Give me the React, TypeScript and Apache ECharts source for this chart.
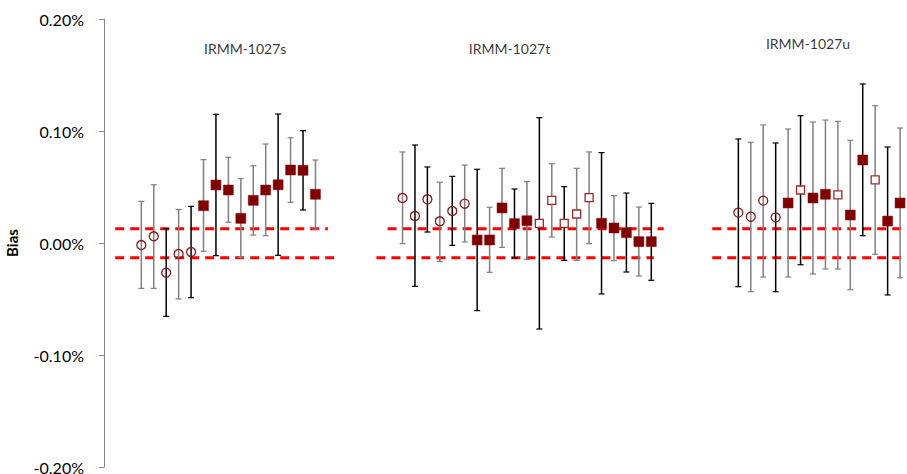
import React, { useEffect, useRef } from "react";
import * as echarts from "echarts";

// ---- data (bias in %) ----
const groupNames = ["IRMM-1027s", "IRMM-1027t", "IRMM-1027u"];
const groupStartSlot = [0, 21, 48];
const groupLabelSlot = [8.35, 29.6, 53.6];
const groupLabelValue = [0.174, 0.174, 0.178];

// o = open circle, s = filled square, q = open square
const g1Kind = ["o", "o", "o", "o", "o", "s", "s", "s", "s", "s", "s", "s", "s", "s", "s"];
const g1Value = [-0.0018, 0.006, -0.0265, -0.0098, -0.008, 0.0333, 0.0518, 0.0473, 0.022, 0.0381, 0.0473, 0.052, 0.0652, 0.0649, 0.0435];
const g1High = [0.0372, 0.052, 0.0128, 0.03, 0.0327, 0.0744, 0.1149, 0.0765, 0.0574, 0.069, 0.0884, 0.1152, 0.094, 0.1003, 0.0741];
const g1Low = [-0.0405, -0.0405, -0.0655, -0.05, -0.0488, -0.0074, -0.0113, 0.0185, -0.0131, 0.0071, 0.0065, -0.011, 0.0363, 0.0295, 0.0125];
const g1Bar = ["g", "g", "k", "g", "k", "g", "k", "g", "g", "g", "g", "k", "g", "k", "g"];

const g2Kind = ["o", "o", "o", "o", "o", "o", "s", "s", "s", "s", "s", "q", "q", "q", "q", "q", "s", "s", "s", "s", "s"];
const g2Value = [0.0402, 0.0241, 0.039, 0.0194, 0.0286, 0.0351, 0.0027, 0.0027, 0.0313, 0.0173, 0.0199, 0.0176, 0.0381, 0.0176, 0.0259, 0.0405, 0.0176, 0.0134, 0.0092, 0.0012, 0.0012];
const g2High = [0.0813, 0.0875, 0.0679, 0.0542, 0.0595, 0.0696, 0.0658, 0.0319, 0.0667, 0.0482, 0.0548, 0.1119, 0.0708, 0.0503, 0.0667, 0.0813, 0.0807, 0.0423, 0.0446, 0.0321, 0.0354];
const g2Low = [-0.0006, -0.0387, 0.0098, -0.0164, -0.0021, 0.0009, -0.0604, -0.0262, -0.0039, -0.0134, -0.0146, -0.0768, 0.0054, -0.0155, -0.0155, -0.0006, -0.0455, -0.0158, -0.0259, -0.0295, -0.0333];
const g2Bar = ["g", "k", "k", "g", "k", "g", "k", "g", "g", "k", "g", "k", "g", "k", "g", "g", "k", "g", "k", "g", "k"];

const g3Kind = ["o", "o", "o", "o", "s", "q", "s", "s", "q", "s", "s", "q", "s", "s", "q"];
const g3Value = [0.0271, 0.0235, 0.0378, 0.0229, 0.0357, 0.0473, 0.0402, 0.0435, 0.0429, 0.025, 0.0741, 0.0563, 0.0196, 0.0357, 0.019];
const g3High = [0.0929, 0.0899, 0.1054, 0.0893, 0.1018, 0.1137, 0.108, 0.1098, 0.1086, 0.0917, 0.142, 0.1226, 0.0857, 0.1027, 0.08];
const g3Low = [-0.039, -0.0435, -0.0304, -0.0435, -0.0304, -0.0194, -0.0277, -0.0232, -0.0232, -0.0417, 0.0065, -0.0101, -0.0464, -0.031, -0.04];
const g3Bar = ["k", "g", "g", "k", "g", "k", "g", "g", "g", "g", "k", "g", "k", "g", "g"];

// acceptance limits (dashed lines)
const limitUpper = 0.0128;
const limitLower = -0.0132;
const limitUpperRanges = [[-2.1, 15.0], [19.8, 42.0], [45.9, 70]];
const limitLowerRanges = [[-2.1, 15.6], [18.9, 41.2], [45.9, 70]];

const yTicks = [-0.2, -0.1, 0, 0.1, 0.2];

const groups = [
  { kind: g1Kind, value: g1Value, high: g1High, low: g1Low, bar: g1Bar },
  { kind: g2Kind, value: g2Value, high: g2High, low: g2Low, bar: g2Bar },
  { kind: g3Kind, value: g3Value, high: g3High, low: g3Low, bar: g3Bar },
];

export default function App() {
  const ref = useRef<HTMLDivElement>(null);
  useEffect(() => {
    if (!ref.current) return;
    const chart = echarts.init(ref.current, null, { renderer: "svg" });

    const circles: number[][] = [];
    const filled: number[][] = [];
    const openSq: number[][] = [];
    const bars: any[] = [];
    groups.forEach((g, gi) => {
      g.value.forEach((v, i) => {
        const x = groupStartSlot[gi] + i;
        const pt = [x, v];
        if (g.kind[i] === "o") circles.push(pt);
        else if (g.kind[i] === "s") filled.push(pt);
        else openSq.push(pt);
        bars.push([x, g.low[i], g.high[i], g.bar[i] === "k" ? "#000000" : "#808080"]);
      });
    });

    const limitSeries: any[] = [];
    const addLimit = (ranges: number[][], y: number) =>
      ranges.forEach((r) => {
        limitSeries.push({
          type: "line",
          data: [[r[0], y], [r[1], y]],
          symbol: "none",
          lineStyle: { color: "#FF0000", width: 3, type: [9, 6] },
          z: 1,
          silent: true,
        });
      });
    addLimit(limitUpperRanges, limitUpper);
    addLimit(limitLowerRanges, limitLower);

    const font = "Lato, 'Liberation Sans', sans-serif";

    chart.setOption({
      animation: false,
      backgroundColor: "#ffffff",
      grid: { left: 104, right: -105, top: 19, bottom: 7, containLabel: false, outerBoundsMode: "none" },
      xAxis: {
        type: "value",
        min: -3,
        max: 70,
        show: false,
        splitLine: { show: false },
      },
      yAxis: {
        type: "value",
        min: yTicks[0],
        max: yTicks[yTicks.length - 1],
        interval: 0.1,
        name: "Bias",
        nameLocation: "middle",
        nameGap: 85,
        nameTextStyle: { fontFamily: font, fontWeight: "bold", fontSize: 15, color: "#000000" },
        axisLine: { show: true, onZero: false, lineStyle: { color: "#868686", width: 1 } },
        axisTick: { show: true, length: 5, lineStyle: { color: "#868686" } },
        splitLine: { show: false },
        axisLabel: {
          margin: 20,
          fontFamily: font,
          fontSize: 16,
          lineHeight: 13,
          color: "#000000",
          formatter: (v: number) => v.toFixed(2) + "%",
        },
      },
      series: [
        ...limitSeries,
        {
          type: "custom",
          z: 2,
          silent: true,
          data: bars,
          renderItem: (params: any, api: any) => {
            const x = api.value(0);
            const lo = api.coord([x, api.value(1)]);
            const hi = api.coord([x, api.value(2)]);
            const color = bars[params.dataIndex][3];
            const style = { stroke: color, lineWidth: 1.5 };
            return {
              type: "group",
              children: [
                { type: "line", shape: { x1: lo[0], y1: lo[1], x2: hi[0], y2: hi[1] }, style },
                { type: "line", shape: { x1: lo[0] - 3, y1: lo[1], x2: lo[0] + 3, y2: lo[1] }, style: { stroke: color, lineWidth: 1.2 } },
                { type: "line", shape: { x1: hi[0] - 3, y1: hi[1], x2: hi[0] + 3, y2: hi[1] }, style: { stroke: color, lineWidth: 1.2 } },
              ],
            };
          },
        },
        {
          type: "scatter",
          z: 3,
          data: circles,
          symbol: "circle",
          symbolSize: 9,
          itemStyle: { color: "rgba(255,255,255,0)", borderColor: "#8B1A1A", borderWidth: 1.3, opacity: 1 },
        },
        {
          type: "scatter",
          z: 3,
          data: filled,
          symbol: "rect",
          symbolSize: 10,
          itemStyle: { color: "#800000", borderColor: "#8a1010", borderWidth: 0.5, opacity: 1 },
        },
        {
          type: "scatter",
          z: 3,
          data: openSq,
          symbol: "rect",
          symbolSize: 8,
          itemStyle: { color: "#ffffff", borderColor: "#A02828", borderWidth: 1.3, opacity: 1 },
        },
        {
          type: "scatter",
          z: 4,
          silent: true,
          symbolSize: 0,
          data: groupNames.map((n, i) => ({ value: [groupLabelSlot[i], groupLabelValue[i]], name: n })),
          label: {
            show: true,
            position: "inside",
            formatter: (p: any) => p.name,
            fontFamily: font,
            fontSize: 14,
            color: "#000000",
          },
        },
      ],
    });
    return () => chart.dispose();
  }, []);
  return (
    <div
      ref={ref}
      style={{ position: "absolute", left: 0, top: 0, width: 907, height: 474, overflow: "hidden" }}
    />
  );
}
